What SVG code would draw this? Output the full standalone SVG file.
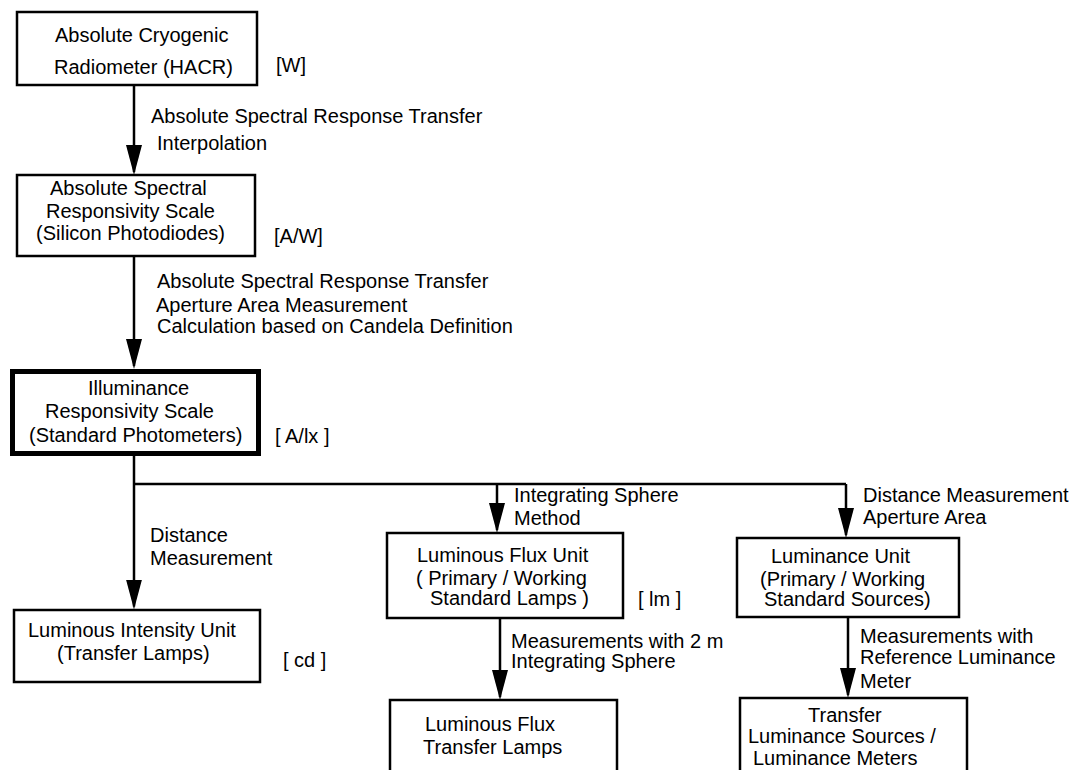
<svg xmlns="http://www.w3.org/2000/svg" width="1076" height="770" viewBox="0 0 1076 770">
<style>
text{font-family:"Liberation Sans",Arial,Helvetica,sans-serif;font-size:20px;fill:#000}
.box{fill:#fff;stroke:#000;stroke-width:2.5}
.thick{stroke-width:5}
.ln{fill:none;stroke:#000;stroke-width:2.5}
</style>
<defs>
<marker id="ah" viewBox="0 0 30 16" refX="27" refY="8" markerWidth="30" markerHeight="16" markerUnits="userSpaceOnUse" orient="auto">
<path d="M0,0 L30,8 L0,16 z" fill="#000"/>
</marker>
</defs>
<rect width="1076" height="770" fill="#fff"/>
<g id="connectors">
<line class="ln" x1="134" y1="85" x2="134" y2="172" marker-end="url(#ah)"/>
<line class="ln" x1="134" y1="256" x2="134" y2="366" marker-end="url(#ah)"/>
<line class="ln" x1="134" y1="456" x2="134" y2="606.5" marker-end="url(#ah)"/>
<path class="ln" d="M134,484 H846"/>
<line class="ln" x1="497" y1="484" x2="497" y2="530" marker-end="url(#ah)"/>
<line class="ln" x1="846" y1="484" x2="846" y2="535" marker-end="url(#ah)"/>
<line class="ln" x1="500" y1="618" x2="500" y2="697" marker-end="url(#ah)"/>
<line class="ln" x1="848" y1="617" x2="848" y2="695" marker-end="url(#ah)"/>
<text x="151" y="123">Absolute Spectral Response Transfer</text>
<text x="157" y="150">Interpolation</text>
<text x="157" y="288">Absolute Spectral Response Transfer</text>
<text x="156" y="312">Aperture Area Measurement</text>
<text x="157" y="333">Calculation based on Candela Definition</text>
<text x="150" y="542">Distance</text>
<text x="150" y="565">Measurement</text>
<text x="514" y="502">Integrating Sphere</text>
<text x="514" y="525">Method</text>
<text x="863" y="502">Distance Measurement</text>
<text x="863" y="524">Aperture Area</text>
<text x="511" y="648">Measurements with 2 m</text>
<text x="511" y="668">Integrating Sphere</text>
<text x="860" y="643">Measurements with</text>
<text x="860" y="664">Reference Luminance</text>
<text x="860" y="688">Meter</text>
</g>
<g id="hacr">
<rect class="box" x="17" y="12" width="240" height="73"/>
<text x="55" y="42">Absolute Cryogenic</text>
<text x="54" y="74">Radiometer (HACR)</text>
<text x="276" y="72">[W]</text>
</g>
<g id="spectral">
<rect class="box" x="17" y="175" width="238" height="81"/>
<text x="50" y="195">Absolute Spectral</text>
<text x="46" y="218">Responsivity Scale</text>
<text x="36" y="240">(Silicon Photodiodes)</text>
<text x="274" y="243">[A/W]</text>
</g>
<g id="illuminance">
<rect class="box thick" x="12.5" y="371.5" width="246" height="82"/>
<text x="88" y="395">Illuminance</text>
<text x="45" y="418">Responsivity Scale</text>
<text x="29" y="442">(Standard Photometers)</text>
<text x="275" y="443">[ A/lx ]</text>
</g>
<g id="intensity">
<rect class="box" x="14" y="610" width="246" height="72"/>
<text x="28" y="637">Luminous Intensity Unit</text>
<text x="57" y="660">(Transfer Lamps)</text>
<text x="283" y="667">[ cd ]</text>
</g>
<g id="flux">
<rect class="box" x="387" y="533" width="236" height="85"/>
<text x="417" y="562">Luminous Flux Unit</text>
<text x="416" y="585">( Primary / Working</text>
<text x="430" y="605">Standard Lamps )</text>
<text x="638" y="606">[ lm ]</text>
</g>
<g id="luminance">
<rect class="box" x="737" y="538" width="222" height="79"/>
<text x="771" y="563">Luminance Unit</text>
<text x="760" y="586">(Primary / Working</text>
<text x="764" y="606">Standard Sources)</text>
</g>
<g id="fluxTransfer">
<rect class="box" x="390" y="700" width="227" height="90"/>
<text x="425" y="731">Luminous Flux</text>
<text x="423" y="754">Transfer Lamps</text>
</g>
<g id="luminanceTransfer">
<rect class="box" x="740" y="698" width="227" height="92"/>
<text x="808" y="722">Transfer</text>
<text x="748" y="743">Luminance Sources /</text>
<text x="753" y="765">Luminance Meters</text>
</g>
</svg>
